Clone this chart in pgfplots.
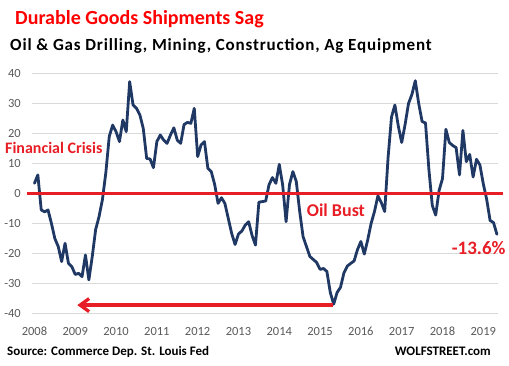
\documentclass[border=0pt]{standalone}
\usepackage{pgfplots}
\pgfplotsset{compat=1.18}
\usepackage{fontspec}
\setmainfont{Carlito}
\newfontfamily\subfont[LetterSpace=4.9]{Carlito}
\usetikzlibrary{arrows.meta}
\definecolor{navy}{RGB}{32,56,100}
\definecolor{ared}{RGB}{232,30,38}
\definecolor{tred}{RGB}{255,0,0}
\definecolor{gridc}{RGB}{217,217,217}
\definecolor{tickc}{RGB}{89,89,89}
\begin{document}
\begin{tikzpicture}
\path[use as bounding box] (-32pt,-52.5pt) rectangle (477pt,313.5pt);
\begin{axis}[
  scale only axis,
  width=466pt, height=240pt,
  xmin=2007.94, xmax=2019.36,
  ymin=-40, ymax=40,
  xtick={2008,2009,...,2019},
  ytick={-40,-30,...,40},
  xticklabels={2008,2009,2010,2011,2012,2013,2014,2015,2016,2017,2018,2019},
  ymajorgrids,
  grid style={gridc, line width=0.8pt},
  axis line style={draw=none},
  major tick length=0pt,
  /pgf/number format/assume math mode=true,
  ticklabel style={font=\fontsize{12.5}{14}\selectfont, text=tickc},
  yticklabel style={anchor=east, inner sep=0pt, xshift=-11pt},
  xticklabel style={anchor=base, inner sep=0pt, yshift=-22.5pt},
  clip=false,
]
\addplot[navy, line width=2.8pt, line join=round, line cap=round]
  table[x expr=2008+\coordindex/12, y index=0, header=false] {
3.4
6.2
-5.5
-6.1
-5.5
-10
-15
-17.7
-22.7
-16.6
-23.3
-24.4
-27
-26.6
-27.7
-20.5
-28.8
-21
-12
-7.7
-2
7
19
22.8
20.6
17.3
24.5
20.6
37.3
29.5
28.4
26.2
21.7
11.7
11.5
8.6
17.3
19.5
17.8
16.7
19.5
21.9
17.8
16.7
23
23.7
23.4
28.4
12.3
16.2
17.3
8.4
7.3
3
-3.3
-1.4
-3.3
-8.3
-13.3
-17
-13.5
-12.5
-10.5
-9.4
-14
-17.2
-2.9
-2.7
-2.5
3
5.3
3.4
9.7
2.8
-9.4
3
7.3
4
-6
-14.4
-17.7
-21
-22
-23
-25.3
-25
-26
-33
-36.9
-33
-31.3
-26.5
-24.2
-23.3
-22.5
-18.7
-16
-20.2
-15.5
-10
-6
-0.8
-3
-6
12
25.5
29.5
22.5
17
23
30
33
37.6
30
24
23.5
8
-4
-7.2
1
5
21.4
17
16
15.3
6.2
21
10.6
13
5.5
11.4
9.5
3.2
-2
-9
-9.7
-13.6
};
\draw[ared, line width=3.3pt] (axis cs:2007.816,0) -- (axis cs:2019.48,0);
\draw[ared, line width=3.3pt, -{Straight Barb[length=9pt,width=13pt]}] (axis cs:2015.32,-37.2) -- (axis cs:2009.05,-37.2);
\end{axis}
% titles and notes (pixel coords: x-32, 313.5-y)
\node[anchor=base west, inner sep=0pt, text=tred, font=\bfseries\fontsize{20}{24}\selectfont] at (-17pt,288.5pt) {Durable Goods Shipments Sag};
\node[anchor=base west, inner sep=0pt, text=black, font=\subfont\bfseries\fontsize{17}{20}\selectfont] at (-22pt,262.8pt) {Oil \& Gas Drilling, Mining, Construction, Ag Equipment};
\node[anchor=base west, inner sep=0pt, text=ared, font=\bfseries\fontsize{16}{19}\selectfont] at (-27pt,159.5pt) {Financial Crisis};
\node[anchor=base west, inner sep=0pt, text=ared, font=\bfseries\fontsize{18}{21}\selectfont] at (274.7pt,96.8pt) {Oil Bust};
\node[anchor=base west, inner sep=0pt, text=ared, font=\bfseries\fontsize{19}{22}\selectfont] at (419.7pt,58.5pt) {-13.6\%};
\node[anchor=base west, inner sep=0pt, text=black, font=\bfseries\fontsize{13}{15}\selectfont] at (-25pt,-42.2pt) {Source: Commerce Dep. St. Louis Fed};
\node[anchor=base east, inner sep=0pt, text=black, font=\bfseries\fontsize{13}{15}\selectfont] at (459pt,-42.2pt) {WOLFSTREET.com};
\end{tikzpicture}
\end{document}
